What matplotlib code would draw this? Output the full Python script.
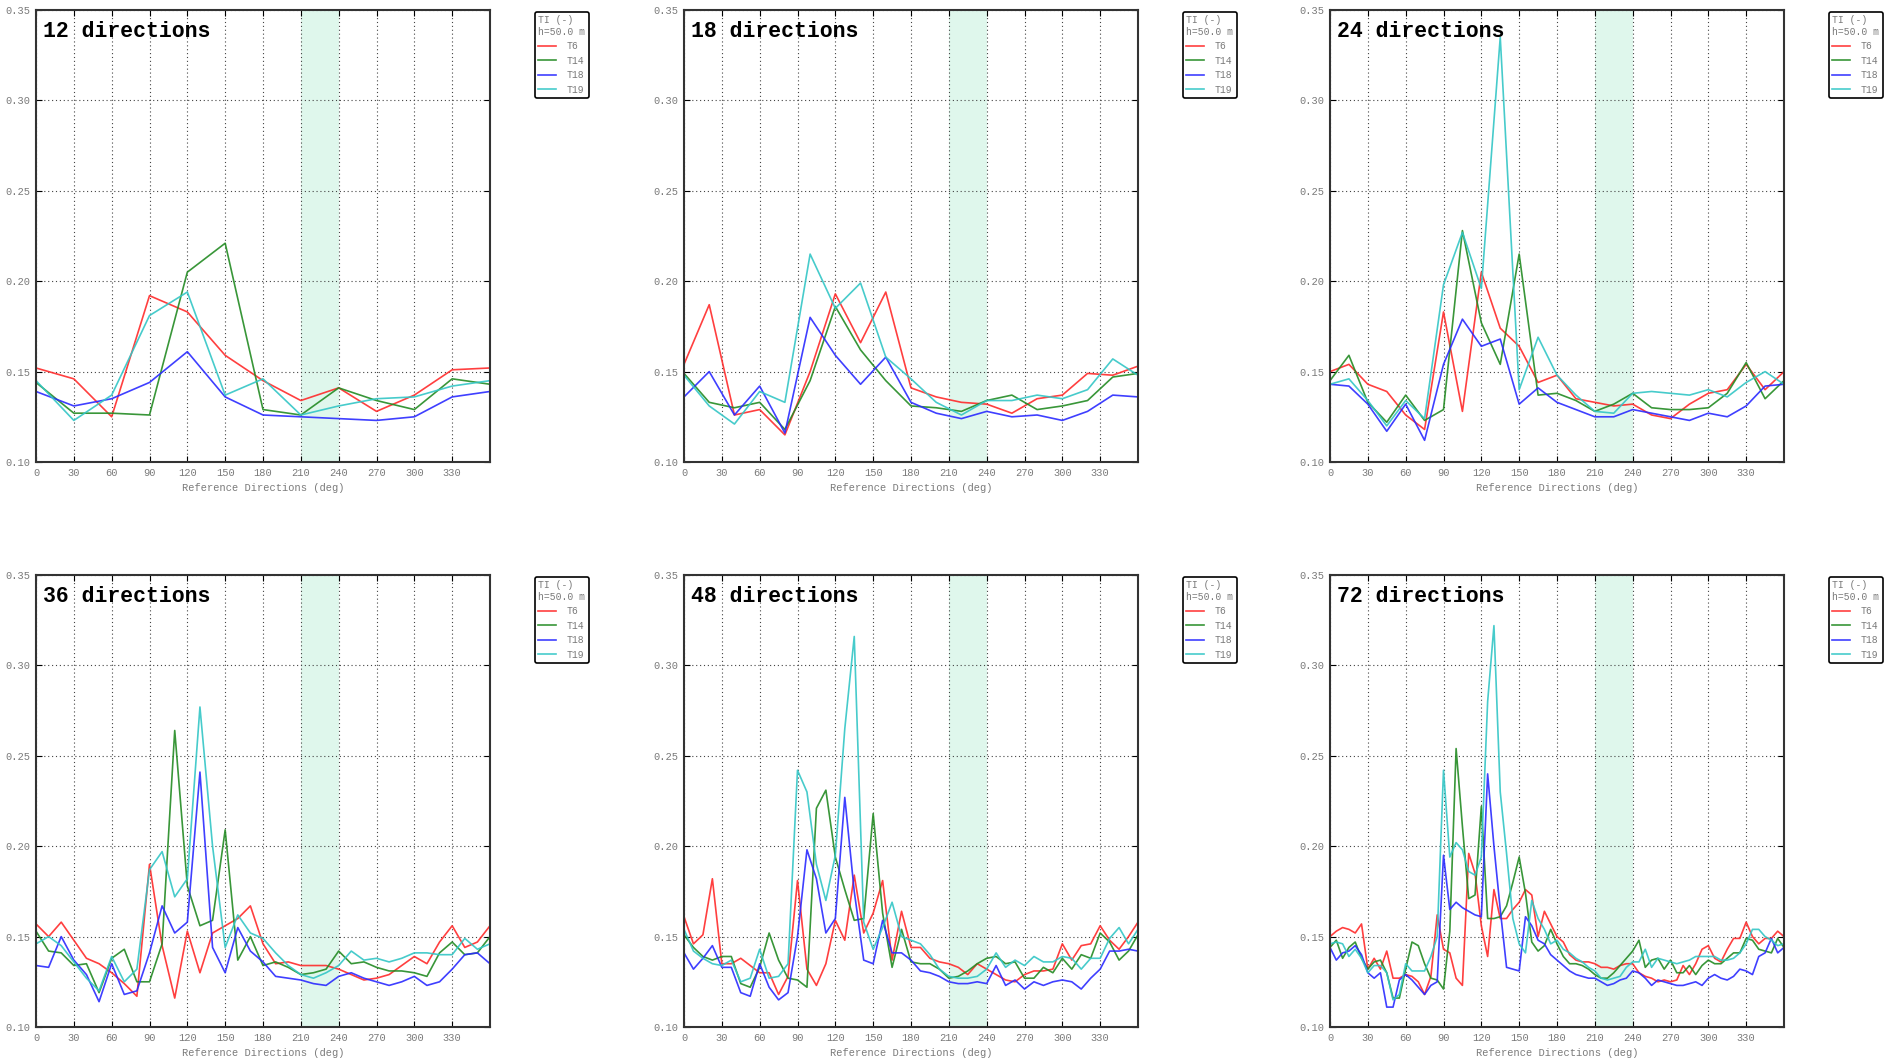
import numpy as np
import matplotlib.pyplot as plt
from matplotlib.ticker import FormatStrFormatter

# TI per reference direction, hub height 50 m
turbines = ['T6', 'T14', 'T18', 'T19']
colors = ['#ff2a2a', '#238b23', '#2a2aff', '#33c6c6']

t6_12 = [0.152, 0.146, 0.125, 0.192, 0.183, 0.159, 0.145, 0.134, 0.141, 0.128, 0.137, 0.151, 0.152]
t14_12 = [0.144, 0.127, 0.127, 0.126, 0.205, 0.221, 0.129, 0.126, 0.141, 0.134, 0.129, 0.146, 0.143]
t18_12 = [0.139, 0.131, 0.135, 0.144, 0.161, 0.136, 0.126, 0.125, 0.124, 0.123, 0.125, 0.136, 0.139]
t19_12 = [0.145, 0.123, 0.137, 0.181, 0.194, 0.137, 0.146, 0.126, 0.131, 0.135, 0.136, 0.142, 0.145]

t6_18 = [0.154, 0.187, 0.126, 0.129, 0.115, 0.150, 0.193, 0.166, 0.194, 0.141, 0.136, 0.133, 0.132, 0.127, 0.135, 0.137, 0.149, 0.148, 0.153]
t14_18 = [0.149, 0.133, 0.130, 0.133, 0.118, 0.145, 0.186, 0.162, 0.145, 0.131, 0.130, 0.128, 0.134, 0.137, 0.129, 0.131, 0.134, 0.147, 0.149]
t18_18 = [0.136, 0.150, 0.126, 0.142, 0.116, 0.180, 0.159, 0.143, 0.158, 0.133, 0.127, 0.124, 0.128, 0.125, 0.126, 0.123, 0.128, 0.137, 0.136]
t19_18 = [0.148, 0.131, 0.121, 0.139, 0.133, 0.215, 0.185, 0.199, 0.158, 0.146, 0.133, 0.126, 0.134, 0.134, 0.137, 0.135, 0.140, 0.157, 0.148]

t6_24 = [0.150, 0.154, 0.143, 0.139, 0.126, 0.118, 0.183, 0.128, 0.205, 0.174, 0.164, 0.144, 0.148,
         0.135, 0.133, 0.131, 0.132, 0.126, 0.124, 0.132, 0.138, 0.140, 0.154, 0.140, 0.150]
t14_24 = [0.145, 0.159, 0.133, 0.122, 0.137, 0.123, 0.129, 0.228, 0.177, 0.154, 0.215, 0.137, 0.138,
          0.134, 0.128, 0.132, 0.138, 0.130, 0.129, 0.129, 0.130, 0.138, 0.155, 0.135, 0.145]
t18_24 = [0.143, 0.142, 0.132, 0.117, 0.132, 0.112, 0.154, 0.179, 0.164, 0.168, 0.132, 0.141, 0.133,
          0.129, 0.125, 0.125, 0.129, 0.127, 0.125, 0.123, 0.127, 0.125, 0.131, 0.142, 0.143]
t19_24 = [0.143, 0.146, 0.134, 0.120, 0.134, 0.124, 0.198, 0.227, 0.196, 0.335, 0.140, 0.169, 0.148,
          0.137, 0.128, 0.127, 0.138, 0.139, 0.138, 0.137, 0.140, 0.136, 0.144, 0.150, 0.143]

t6_36 = [0.157, 0.150, 0.158, 0.148, 0.138, 0.135, 0.130, 0.124, 0.117, 0.190, 0.145, 0.116, 0.153,
         0.130, 0.152, 0.156, 0.160, 0.167, 0.146, 0.135, 0.136, 0.134, 0.134, 0.134, 0.132, 0.129,
         0.126, 0.127, 0.129, 0.134, 0.139, 0.135, 0.147, 0.156, 0.144, 0.147, 0.156]
t14_36 = [0.153, 0.142, 0.141, 0.134, 0.135, 0.119, 0.138, 0.143, 0.125, 0.125, 0.146, 0.264, 0.178,
          0.156, 0.159, 0.209, 0.137, 0.150, 0.134, 0.136, 0.133, 0.129, 0.130, 0.132, 0.142, 0.135,
          0.136, 0.133, 0.131, 0.131, 0.130, 0.128, 0.141, 0.147, 0.140, 0.141, 0.150]
t18_36 = [0.134, 0.133, 0.150, 0.137, 0.129, 0.114, 0.135, 0.118, 0.120, 0.141, 0.167, 0.152, 0.158,
          0.241, 0.144, 0.130, 0.155, 0.142, 0.136, 0.128, 0.127, 0.126, 0.124, 0.123, 0.128, 0.130,
          0.127, 0.125, 0.123, 0.125, 0.128, 0.123, 0.125, 0.132, 0.140, 0.141, 0.135]
t19_36 = [0.146, 0.150, 0.145, 0.136, 0.127, 0.120, 0.139, 0.125, 0.132, 0.187, 0.197, 0.172, 0.182,
          0.277, 0.200, 0.144, 0.162, 0.152, 0.149, 0.141, 0.134, 0.129, 0.127, 0.130, 0.134, 0.142,
          0.137, 0.138, 0.136, 0.138, 0.141, 0.141, 0.140, 0.140, 0.149, 0.143, 0.146]

t6_48 = [0.161, 0.146, 0.151, 0.182, 0.135, 0.135, 0.138, 0.134, 0.130, 0.130, 0.118, 0.128, 0.181,
         0.132, 0.123, 0.135, 0.159, 0.148, 0.184, 0.152, 0.163, 0.181, 0.137, 0.164, 0.144, 0.144,
         0.138, 0.136, 0.135, 0.133, 0.129, 0.135, 0.132, 0.129, 0.126, 0.125, 0.129, 0.131, 0.131,
         0.132, 0.146, 0.137, 0.145, 0.146, 0.156, 0.148, 0.143, 0.150, 0.158]
t14_48 = [0.151, 0.144, 0.139, 0.137, 0.139, 0.139, 0.124, 0.122, 0.133, 0.152, 0.137, 0.127, 0.126,
          0.122, 0.221, 0.231, 0.194, 0.176, 0.159, 0.160, 0.218, 0.163, 0.133, 0.154, 0.136, 0.135,
          0.135, 0.132, 0.127, 0.128, 0.131, 0.135, 0.138, 0.139, 0.135, 0.136, 0.127, 0.127, 0.133,
          0.130, 0.138, 0.132, 0.140, 0.138, 0.152, 0.147, 0.137, 0.142, 0.151]
t18_48 = [0.141, 0.132, 0.138, 0.145, 0.133, 0.133, 0.119, 0.117, 0.135, 0.122, 0.115, 0.119, 0.150,
          0.198, 0.182, 0.152, 0.160, 0.227, 0.175, 0.137, 0.135, 0.159, 0.141, 0.141, 0.137, 0.131,
          0.130, 0.128, 0.125, 0.124, 0.124, 0.125, 0.124, 0.134, 0.123, 0.126, 0.121, 0.125, 0.123,
          0.125, 0.126, 0.125, 0.121, 0.127, 0.132, 0.142, 0.142, 0.143, 0.142]
t19_48 = [0.154, 0.142, 0.138, 0.135, 0.134, 0.137, 0.125, 0.127, 0.143, 0.127, 0.128, 0.135, 0.242,
          0.230, 0.190, 0.170, 0.195, 0.265, 0.316, 0.158, 0.143, 0.155, 0.169, 0.150, 0.148, 0.146,
          0.140, 0.132, 0.128, 0.127, 0.127, 0.128, 0.132, 0.141, 0.133, 0.137, 0.134, 0.139, 0.136,
          0.136, 0.139, 0.138, 0.132, 0.138, 0.138, 0.149, 0.155, 0.146, 0.154]

t6_72 = [0.150, 0.153, 0.155, 0.154, 0.152, 0.157, 0.132, 0.138, 0.132, 0.142, 0.127, 0.127, 0.129,
         0.128, 0.125, 0.118, 0.128, 0.162, 0.143, 0.141, 0.127, 0.123, 0.196, 0.185, 0.156, 0.139,
         0.176, 0.160, 0.160, 0.165, 0.169, 0.176, 0.173, 0.150, 0.164, 0.157, 0.150, 0.147, 0.140,
         0.137, 0.136, 0.136, 0.135, 0.133, 0.133, 0.132, 0.134, 0.135, 0.135, 0.130, 0.128, 0.127,
         0.125, 0.126, 0.125, 0.126, 0.134, 0.129, 0.135, 0.143, 0.145, 0.138, 0.136, 0.143, 0.149,
         0.149, 0.158, 0.150, 0.146, 0.149, 0.149, 0.153, 0.150]
t14_72 = [0.144, 0.148, 0.138, 0.144, 0.147, 0.138, 0.132, 0.136, 0.137, 0.130, 0.116, 0.116, 0.132,
          0.147, 0.145, 0.135, 0.127, 0.126, 0.121, 0.153, 0.254, 0.211, 0.171, 0.173, 0.222, 0.160,
          0.160, 0.161, 0.167, 0.180, 0.194, 0.174, 0.147, 0.142, 0.145, 0.154, 0.146, 0.139, 0.135,
          0.135, 0.134, 0.132, 0.129, 0.127, 0.127, 0.130, 0.134, 0.138, 0.142, 0.148, 0.133, 0.137,
          0.138, 0.132, 0.137, 0.130, 0.130, 0.134, 0.129, 0.134, 0.137, 0.135, 0.135, 0.138, 0.141,
          0.141, 0.149, 0.148, 0.143, 0.142, 0.141, 0.149, 0.144]
t18_72 = [0.144, 0.137, 0.141, 0.142, 0.145, 0.140, 0.130, 0.127, 0.130, 0.111, 0.111, 0.126, 0.129,
          0.126, 0.122, 0.118, 0.123, 0.125, 0.195, 0.165, 0.169, 0.166, 0.164, 0.162, 0.161, 0.240,
          0.200, 0.165, 0.133, 0.132, 0.131, 0.161, 0.156, 0.148, 0.146, 0.140, 0.137, 0.134, 0.131,
          0.129, 0.128, 0.127, 0.127, 0.125, 0.123, 0.124, 0.126, 0.127, 0.131, 0.130, 0.127, 0.123,
          0.126, 0.125, 0.124, 0.123, 0.123, 0.124, 0.125, 0.123, 0.127, 0.129, 0.127, 0.126, 0.128,
          0.132, 0.131, 0.129, 0.139, 0.141, 0.149, 0.141, 0.144]
t19_72 = [0.146, 0.147, 0.146, 0.139, 0.143, 0.138, 0.130, 0.134, 0.134, 0.130, 0.115, 0.118, 0.135,
          0.131, 0.131, 0.131, 0.139, 0.150, 0.242, 0.194, 0.202, 0.198, 0.186, 0.184, 0.194, 0.280,
          0.322, 0.230, 0.196, 0.160, 0.146, 0.141, 0.170, 0.160, 0.154, 0.146, 0.148, 0.143, 0.141,
          0.138, 0.136, 0.133, 0.131, 0.127, 0.126, 0.127, 0.128, 0.133, 0.136, 0.136, 0.143, 0.133,
          0.138, 0.137, 0.136, 0.135, 0.136, 0.137, 0.139, 0.139, 0.139, 0.139, 0.137, 0.137, 0.138,
          0.141, 0.146, 0.154, 0.154, 0.150, 0.148, 0.145, 0.146]

panels = [
    (12, [t6_12, t14_12, t18_12, t19_12]),
    (18, [t6_18, t14_18, t18_18, t19_18]),
    (24, [t6_24, t14_24, t18_24, t19_24]),
    (36, [t6_36, t14_36, t18_36, t19_36]),
    (48, [t6_48, t14_48, t18_48, t19_48]),
    (72, [t6_72, t14_72, t18_72, t19_72]),
]

mono = 'Liberation Mono'
grey = '#7a7a7a'

W, H = 1898, 1064
fig = plt.figure(figsize=(W / 100, H / 100), dpi=100)

# pixel layout of the axes (left, top) and size
lefts = [36, 684, 1330]
tops = [10, 575]
aw, ah = 454, 452

for k, (n, series) in enumerate(panels):
    row, col = divmod(k, 3)
    x0, y0 = lefts[col], tops[row]
    ax = fig.add_axes([x0 / W, 1 - (y0 + ah) / H, aw / W, ah / H])
    dirs = np.linspace(0, 360, n + 1)

    ax.axvspan(210, 240, color='#dff7ec', zorder=0.5, lw=0)
    for vals, name, c in zip(series, turbines, colors):
        ax.plot(dirs, vals, color=c, lw=1.2, label=name, alpha=0.9)

    ax.set_xlim(0, 360)
    ax.set_ylim(0.10, 0.35)
    ax.set_xticks(np.arange(0, 360, 30))
    ax.set_yticks(np.arange(0.10, 0.351, 0.05))
    ax.yaxis.set_major_formatter(FormatStrFormatter('%.2f'))
    ax.grid(True, linestyle=(0, (1, 2.5)), color='#444444', lw=0.8)
    ax.tick_params(direction='in', top=True, right=True, length=4, width=0.8,
                   labelsize=7.5, labelcolor=grey, pad=4)
    for lab in ax.get_xticklabels() + ax.get_yticklabels():
        lab.set_family(mono)
    for sp in ax.spines.values():
        sp.set_linewidth(1.5)
        sp.set_color('#333333')

    ax.set_xlabel('Reference Directions (deg)', family=mono, fontsize=7.5,
                  color=grey, labelpad=4)
    ax.text(0.015, 0.975, f'{n} directions', transform=ax.transAxes,
            fontsize=15.5, fontweight='bold', family=mono, va='top', ha='left')

    leg = ax.legend(loc='upper left', bbox_to_anchor=((x0 + aw + 45) / W, 1 - (y0 + 2) / H),
                    bbox_transform=fig.transFigure, title='TI (-)\nh=50.0 m',
                    prop={'family': mono, 'size': 7}, alignment='left',
                    title_fontproperties={'family': mono, 'size': 7},
                    frameon=True, fancybox=True, edgecolor='black', framealpha=1,
                    handlelength=1.8, handletextpad=1.1, labelspacing=0.45,
                    borderpad=0.35, borderaxespad=0)
    leg.get_frame().set_linewidth(1.2)
    leg.get_title().set_color(grey)
    for t in leg.get_texts():
        t.set_color(grey)

fig.savefig('out.png', dpi=100, facecolor='white')
